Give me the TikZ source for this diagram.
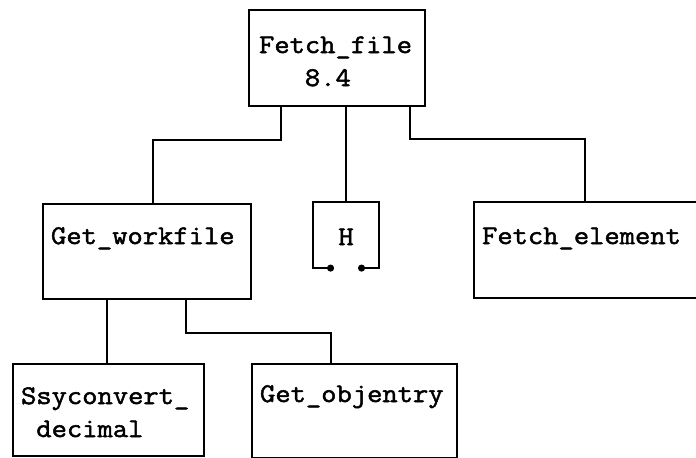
\documentclass[tikz,border=0pt]{standalone}
\usepackage{fontspec}
\setmonofont[FakeStretch=1.1,FakeBold=1.8]{Latin Modern Mono}
\usetikzlibrary{arrows.meta}

\begin{document}
\begin{tikzpicture}[x=0.5pt,y=-0.5pt,line width=1.05pt,
font=\ttfamily\fontsize{13.5}{16.5}\selectfont,
blk/.style={draw,anchor=north west,align=left,inner xsep=4pt,inner ysep=0pt}]
\useasboundingbox (0,0) rectangle (696,458);
\node[blk,text width=78pt,inner xsep=5pt,text height=21.5pt,text depth=26.5pt] (file) at (248,9) {Fetch\_file\\\hphantom{000}8.4};
\node[blk,text width=96pt,text height=20pt,text depth=27.5pt] (work) at (42,203) {Get\_workfile};
\node[blk,draw=none,align=center,text width=24pt,text height=21pt,text depth=11pt] (H) at (313,202) {H};
\node[blk,text width=115.5pt,text height=21pt,text depth=27pt] (elem) at (473,201) {Fetch\_element};
\node[blk,text width=87.5pt,text height=20pt,text depth=26pt] (ssy) at (12,363) {Ssyconvert\_\\\hphantom{0}decimal};
\node[blk,text width=94.5pt,text height=19pt,text depth=28pt] (obj) at (251,363) {Get\_objentry};
% open box round H
\draw[{Circle[length=3.5pt]}-{Circle[length=3.5pt]}] ([xshift=-6pt]H.south) -| (H.north west) -- (H.north east) |- ([xshift=6pt]H.south);
% tree lines
\draw ([xshift=16.5pt]file.south west) -- ++(0,33) -| ([xshift=55.5pt]work.north west);
\draw (H.north |- file.south) -- (H.north);
\draw ([xshift=-8pt]file.south east) -- ++(0,32) -| ([xshift=56pt]elem.north west);
\draw ([xshift=32.5pt]work.south west) coordinate (w1) -- (w1 |- ssy.north);
\draw ([xshift=72pt]work.south west) -- ++(0,33) -| ([xshift=40pt]obj.north west);
\end{tikzpicture}
\end{document}
